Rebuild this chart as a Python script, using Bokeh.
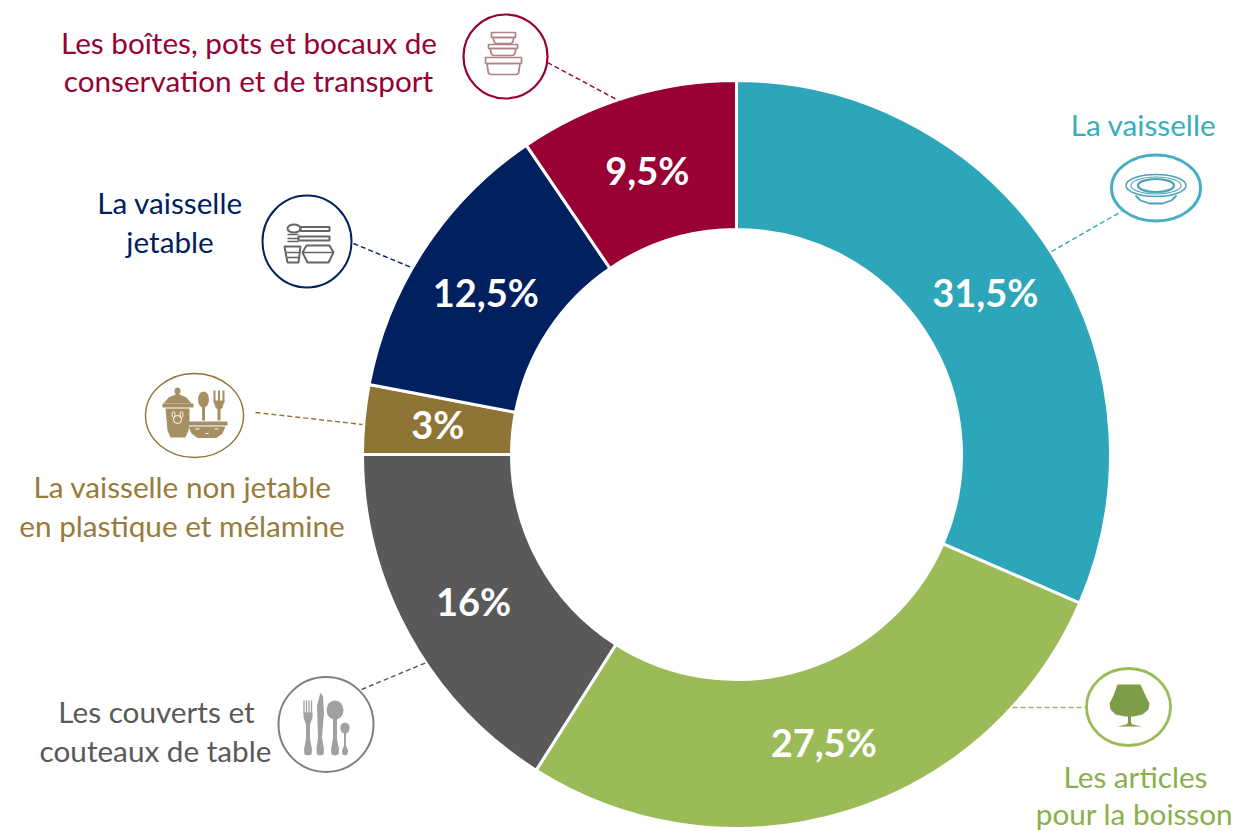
import math
from bokeh.embed import file_html
from bokeh.resources import INLINE
from bokeh.plotting import figure
from bokeh.models import ColumnDataSource
from bokeh.core.properties import value

# ---- chart data
categories = ["La vaisselle", "Les articles pour la boisson", "Les couverts et couteaux de table",
              "La vaisselle non jetable en plastique et mélamine", "La vaisselle jetable",
              "Les boîtes, pots et bocaux de conservation et de transport"]
values = [31.5, 27.5, 16, 3, 12.5, 9.5]
pct_labels = ["31,5%", "27,5%", "16%", "3%", "12,5%", "9,5%"]
colors = ["#2CA6B8", "#9BBB59", "#595959", "#8F7535", "#002060", "#990033"]
text_colors = ["#35AEBE", "#8AAF4C", "#595959", "#967B3C", "#002060", "#990033"]

FONT = "Lato"
W, H = 1236, 831
CX, CY, R_OUT, R_IN = 736, 454, 374, 225


def Y(y):
    return 831 - y


p = figure(width=W, height=H, x_range=(0, W), y_range=(0, H),
           output_backend="svg", toolbar_location=None,
           x_axis_type=None, y_axis_type=None, min_border=0, outline_line_color=None)
p.grid.visible = False
p.background_fill_color = "white"

# ---- donut
total = sum(values)
starts, ends, cum = [], [], 0.0
for v in values:
    starts.append(math.pi / 2 - 2 * math.pi * cum / total)
    cum += v
    ends.append(math.pi / 2 - 2 * math.pi * cum / total)
src = ColumnDataSource(dict(cat=categories, v=values, s=starts, e=ends, c=colors))
p.annular_wedge(x=CX, y=Y(CY), inner_radius=R_IN, outer_radius=R_OUT, start_angle="s", end_angle="e",
                direction="clock", fill_color="c", line_color="white", line_width=3, source=src)

# ---- percentages
mids = [(a + b) / 2 for a, b in zip(starts, ends)]
R_LABEL = 300
dy = [-2, -1, -2, 2, -2, -2]
dx = [-2, -1, 0, 0, 0, -1]
p.text(x=[CX + R_LABEL * math.cos(m) + d for m, d in zip(mids, dx)],
       y=[Y(CY) + R_LABEL * math.sin(m) + d for m, d in zip(mids, dy)],
       text=pct_labels, text_color="white", text_font=value(FONT), text_font_style="bold",
       text_font_size="38px", text_align="center", text_baseline="middle")

# ---- category captions (line, centre x, centre y, colour index)
captions = [
    ("La vaisselle", 1143, 123.5, 0),
    ("Les articles", 1135, 775.5, 1),
    ("pour la boisson", 1134, 813, 1),
    ("Les couverts et", 156, 710.5, 2),
    ("couteaux de table", 155, 749.5, 2),
    ("La vaisselle non jetable", 182, 485.5, 3),
    ("en plastique et mélamine", 181.5, 524.5, 3),
    ("La vaisselle", 169.5, 201.5, 4),
    ("jetable", 169.5, 240.5, 4),
    ("Les boîtes, pots et bocaux de", 248.5, 41.5, 5),
    ("conservation et de transport", 248, 79.5, 5),
]
p.text(x=[c[1] for c in captions], y=[Y(c[2]) for c in captions], text=[c[0] for c in captions],
       text_color=[text_colors[c[3]] for c in captions], text_font=value(FONT),
       text_font_size="29.7px", text_align="center", text_baseline="middle")

# ---- leaders
leaders = [
    ((1051, 251), (1121, 211), 0),
    ((1012, 707), (1086, 707), 1),
    ((361, 689), (426, 662), 2),
    ((255, 412), (362, 424), 3),
    ((353, 243), (411, 267), 4),
    ((547, 62), (618, 100), 5),
]
for a, b, i in leaders:
    p.line([a[0], b[0]], [Y(a[1]), Y(b[1])], line_color=colors[i], line_width=1.4, line_dash="5 3")

# ---- icon rings
rings = [(1155.5, 187.5, 44.5, 33, 0, 3), (1128, 706.5, 42, 38.5, 1, 2.8), (325.5, 724, 47.5, 47.5, 2, 2),
         (194, 415, 49, 42, 3, 1.4), (306.5, 241, 44.5, 46, 4, 2), (505, 56, 42, 42, 5, 2.2)]
for x, y, rx, ry, i, lw in rings:
    ring_col = {0: "#49AEC3", 1: "#9BBB59", 2: "#7F7F7F"}.get(i, colors[i])
    p.ellipse(x=x, y=Y(y), width=2 * rx, height=2 * ry, fill_color="white", line_color=ring_col, line_width=lw)


def poly(pts, fill=None, line=None, lw=1.5):
    p.patch([a for a, _ in pts], [Y(b) for _, b in pts], fill_color=fill, fill_alpha=1 if fill else 0,
            line_color=line, line_width=lw, line_alpha=1 if line else 0)


def seg(x0, y0, x1, y1, col, lw=1.5):
    p.line([x0, x1], [Y(y0), Y(y1)], line_color=col, line_width=lw)


def ell(x, y, rx, ry, fill=None, line=None, lw=1.5):
    p.ellipse(x=x, y=Y(y), width=2 * rx, height=2 * ry, fill_color=fill, fill_alpha=1 if fill else 0,
              line_color=line, line_width=lw, line_alpha=1 if line else 0)


# plate
PC = "#4AA3B8"
ell(1155.5, 185, 30, 11, line=PC, lw=1.6)
ell(1155.5, 185, 25, 8.5, line=PC, lw=1.1)
ell(1155.5, 185, 18, 6.5, line=PC, lw=2.2)
p.line([1135, 1140, 1149, 1162, 1171, 1176], [Y(v) for v in [195, 200, 203, 203, 200, 195]], line_color=PC, line_width=1.8)

# goblet
GC = "#7F9C48"
poly([(1117, 684), (1140, 684), (1145, 695), (1149, 703), (1148, 709), (1142, 714), (1133, 716), (1130.5, 716),
      (1130.5, 722), (1132, 724), (1142, 726), (1117, 726), (1126, 724), (1127.5, 722), (1127.5, 716), (1124, 716),
      (1115, 714), (1110, 709), (1109, 703), (1113, 695)], fill=GC)

# cutlery
CC = "#A0A0A0"
for fx in (303.5, 306, 308.5, 311):
    seg(fx, 700, fx, 713, CC, 1.3)
poly([(303, 712), (312, 712), (312, 717), (309.5, 724), (309.5, 738), (311.5, 749), (311, 754), (307.5, 755), (304, 754),
      (303.5, 749), (305.5, 738), (305.5, 724), (303, 717)], fill=CC)
poly([(320, 692), (322.5, 696), (323.5, 712), (322.5, 724), (321.5, 737), (323.5, 749), (323, 754), (319.5, 755), (316.5, 754),
      (316, 749), (317.5, 737), (316.5, 705)], fill=CC)
ell(334.5, 709.5, 8.5, 9.5, fill=CC)
poly([(332.5, 716), (336.5, 716), (336.5, 738), (338.5, 749), (338, 754), (334.5, 755), (331, 754), (330.5, 749), (332.5, 738)], fill=CC)
ell(344.5, 727.5, 4.7, 5.5, fill=CC)
poly([(343.5, 732), (345.5, 732), (345.5, 745), (347.5, 750), (347, 754), (344.5, 755), (342, 754), (341.5, 750), (343.5, 745)], fill=CC)

# dinnerware
BC = "#A58F63"
ell(177, 390.5, 3, 3.5, fill=BC)
poly([(163, 403), (168, 397), (177, 393), (186, 397), (191, 403)], fill=BC)
poly([(162, 403), (193, 403), (193, 407), (162, 407)], fill=BC)
poly([(165, 408), (189, 408), (189, 420), (188, 430), (185, 437), (170, 437), (167, 430)], fill=BC)
ell(177, 419, 4, 4, line="white", lw=1)
ell(173, 414, 1.5, 3, line="white", lw=1)
ell(181, 414, 1.5, 3, line="white", lw=1)
ell(203, 399, 5.5, 8, fill=BC)
seg(203, 405, 203, 420, BC, 3)
for fx in (214, 218.5, 223):
    seg(fx, 390, fx, 402, BC, 2)
poly([(213, 400), (224, 400), (222, 407), (220, 409), (217, 409), (215, 407)], fill=BC)
seg(218.5, 408, 218.5, 420, BC, 3)
poly([(185, 421), (227, 421), (227, 425), (185, 425)], fill=BC)
poly([(188, 426), (225, 426), (222, 433), (216, 437.5), (197, 437.5), (191, 433)], fill=BC)
seg(205, 433, 208, 433, "white", 1)
seg(195, 428.5, 199, 428.5, "white", 1)
seg(214, 428.5, 218, 428.5, "white", 1)

# disposable ware
DC = "#666666"
ell(293.5, 228, 6.5, 4, line=DC, lw=2)
poly([(300, 226.5), (329, 226.5), (329, 230.5), (300, 230.5)], line=DC, lw=2)
seg(287, 234, 298, 234, DC, 1.4)
seg(287, 238, 298, 238, DC, 1.4)
seg(287, 241, 298, 241, DC, 1.4)
poly([(298, 236), (329, 236), (329, 240), (298, 240)], line=DC, lw=2)
poly([(284, 246), (300, 246), (298, 262), (287, 262)], line=DC, lw=2)
seg(286, 252, 299, 252, DC, 1.6)
seg(287, 257, 298, 257, DC, 1.6)
poly([(306, 245), (329, 245), (333, 252), (328, 262), (307, 262), (302, 252)], line=DC, lw=2)
seg(302, 252, 333, 252, DC, 1.5)

# food boxes
MC = "#AD8386"
for (x0, x1, ya, yb, yc) in [(491, 515, 32, 37, 43), (488, 517, 44, 48, 55), (485, 521, 57, 63, 74)]:
    poly([(x0, ya), (x1, ya), (x1, yb), (x0, yb)], line=MC, lw=1.7)
    poly([(x0 + 1.5, yb), (x1 - 1.5, yb), (x1 - 3, yc - 1), (x1 - 5, yc), (x0 + 5, yc), (x0 + 3, yc - 1)], line=MC, lw=1.7)

html = file_html(p, INLINE)
open("out.html", "w").write(html)
